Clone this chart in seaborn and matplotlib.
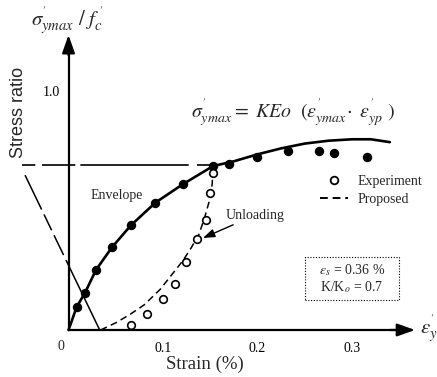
import matplotlib
matplotlib.use("Agg")
import matplotlib.pyplot as plt
from matplotlib.patches import Rectangle
from matplotlib.lines import Line2D
import seaborn as sns

# --- data (strain in %, stress ratio sigma'/f'c) ---
env_exp_strain = [0.0087, 0.0175, 0.029, 0.046, 0.066, 0.092, 0.121, 0.153,
                  0.170, 0.199, 0.232, 0.265, 0.281, 0.316]
env_exp_ratio = [0.097, 0.156, 0.251, 0.346, 0.438, 0.533, 0.610, 0.686,
                 0.695, 0.722, 0.750, 0.750, 0.742, 0.722]

env_curve_strain = [0.0, 0.0087, 0.0175, 0.029, 0.046, 0.066, 0.092, 0.121,
                    0.153, 0.175, 0.200, 0.225, 0.250, 0.275, 0.300, 0.320, 0.340]
env_curve_ratio = [0.0, 0.097, 0.156, 0.251, 0.346, 0.438, 0.533, 0.610,
                   0.686, 0.706, 0.735, 0.760, 0.780, 0.792, 0.798, 0.798, 0.786]

unl_exp_strain = [0.153, 0.150, 0.145, 0.136, 0.124, 0.113, 0.100, 0.083, 0.066]
unl_exp_ratio = [0.658, 0.572, 0.460, 0.379, 0.286, 0.191, 0.128, 0.067, 0.021]

unl_prop_strain = [0.034, 0.050, 0.065, 0.080, 0.097, 0.110, 0.121, 0.130,
                   0.138, 0.144, 0.149, 0.152, 0.153]
unl_prop_ratio = [0.0, 0.030, 0.065, 0.105, 0.170, 0.235, 0.290, 0.345,
                  0.400, 0.470, 0.540, 0.610, 0.686]

peak_strain = [-0.049, 0.153]
peak_ratio = [0.69, 0.69]

reload_strain = [-0.046, 0.033]
reload_ratio = [0.648, 0.0]

x_ticks = [0.1, 0.2, 0.3]
x_ticklabels = ["0.1", "0.2", "0.3"]
y_ticks = [0.5, 1.0]
y_ticklabels = ["", "1.0"]

sns.set_style("white")
plt.rcParams["font.family"] = ["Liberation Serif", "DejaVu Serif"]
plt.rcParams["mathtext.fontset"] = "stix"

fig = plt.figure(figsize=(4.37, 3.77), dpi=100)
ax = fig.add_axes([0, 0, 1, 1])
ax.set_xlim(-0.0725, 0.3899)
ax.set_ylim(-0.1967, 1.3808)

ink = "black"

# envelope curve and experimental envelope points
sns.lineplot(x=env_curve_strain, y=env_curve_ratio, ax=ax, color=ink,
             linewidth=1.9, sort=False, legend=False)
sns.scatterplot(x=env_exp_strain, y=env_exp_ratio, ax=ax, color=ink,
                s=46, edgecolor=ink, linewidth=0, legend=False, zorder=4)

# proposed unloading branch
ax.plot(unl_prop_strain, unl_prop_ratio, color=ink, linewidth=1.1,
        dashes=(4.5, 2.8), label="Proposed")

# experimental unloading points
sns.scatterplot(x=unl_exp_strain, y=unl_exp_ratio, ax=ax, marker="o",
                s=30, facecolor="white", edgecolor=ink, linewidth=1.2,
                legend=False, zorder=5)

# guide lines
ax.plot(peak_strain, peak_ratio, color=ink, linewidth=1.2,
        dashes=(8, 4, 20, 3, 65, 5, 15, 3))
ax.plot(reload_strain, reload_ratio, color=ink, linewidth=1.1,
        dashes=(25, 3.6, 11.5, 3.6, 14.4, 3.6, 65, 2))

# axes through the origin with arrow heads
for side in ("top", "right"):
    ax.spines[side].set_visible(False)
ax.spines["left"].set_position(("data", 0))
ax.spines["bottom"].set_position(("data", 0))
ax.spines["left"].set_bounds(0, 1.20)
ax.spines["bottom"].set_bounds(0, 0.36)
for side in ("left", "bottom"):
    ax.spines[side].set_linewidth(1.6)
    ax.spines[side].set_color(ink)

arrow = dict(arrowstyle="-|>,head_length=0.9,head_width=0.32", color=ink,
             linewidth=1.6, mutation_scale=12, shrinkA=0, shrinkB=0)
ax.annotate("", xy=(0, 1.234), xytext=(0, 1.15), arrowprops=arrow)
ax.annotate("", xy=(0.3667, 0), xytext=(0.34, 0), arrowprops=arrow)

ax.set_xticks(x_ticks)
ax.set_xticklabels(x_ticklabels)
ax.set_yticks(y_ticks)
ax.set_yticklabels(y_ticklabels)
ax.tick_params(axis="x", direction="in", length=6, width=1.2, pad=9,
               labelsize=10, colors=ink)
ax.tick_params(axis="y", direction="in", length=7, width=1.2, pad=6,
               labelsize=10, colors=ink)
ax.text(-0.008, -0.042, "0", fontsize=10, ha="center", va="top")

# axis titles
ax.text(0.1444, -0.142, "Strain (%)", fontsize=13.5, ha="center", va="center")
ax.text(-0.0524, 0.912, "Stress ratio", fontsize=13, rotation=90,
        ha="center", va="center", family=["Liberation Sans"])
ax.text(-0.0016, 1.297, r"$\sigma^{'}_{ymax}\ /\ f^{\,'}_{c}$", fontsize=15,
        ha="center", va="center")
ax.text(0.372, 0.008, r"$\varepsilon^{'}_{y}$", fontsize=15,
        ha="left", va="center")

# equation
ax.text(0.2376, 0.908,
        r"$\sigma^{'}_{ymax} =\ KEo\ \ (\varepsilon^{'}_{ymax}\!\cdot\ \varepsilon^{'}_{yp}\ )$",
        fontsize=14.3, ha="center", va="center")

# curve labels
ax.text(0.0513, 0.561, "Envelope", fontsize=10, ha="center", va="center")
ax.annotate("Unloading", xy=(0.1423, 0.385), xytext=(0.1667, 0.481),
            fontsize=10, ha="left", va="center",
            arrowprops=dict(arrowstyle="-|>,head_length=0.7,head_width=0.25",
                            color=ink, linewidth=1.0, shrinkA=0, shrinkB=0,
                            mutation_scale=10))

# legend
handles = [Line2D([], [], linestyle="none", marker="o", markersize=5.5,
                  markerfacecolor="white", markeredgecolor=ink,
                  markeredgewidth=1.3),
           Line2D([], [], color=ink, linewidth=1.4, dashes=(4, 2.5))]
ax.legend(handles, ["Experiment", "Proposed"], loc="upper left",
          bbox_to_anchor=(0.732, 0.535), frameon=False, fontsize=10,
          handlelength=2.0, handletextpad=0.7, labelspacing=0.35,
          borderpad=0, borderaxespad=0)

# parameter box
ax.add_patch(Rectangle((0.2503, 0.1255), 0.0994, 0.1795, fill=False,
                       edgecolor=ink, linewidth=0.8, linestyle=(0, (1, 1.5))))
ax.text(0.3, 0.252, r"$\varepsilon_{s}$ = 0.36 %", fontsize=10,
        ha="center", va="center")
ax.text(0.3, 0.178, r"K/K$_{o}$ = 0.7", fontsize=10, ha="center", va="center")

fig.savefig("out.png", dpi=100)
